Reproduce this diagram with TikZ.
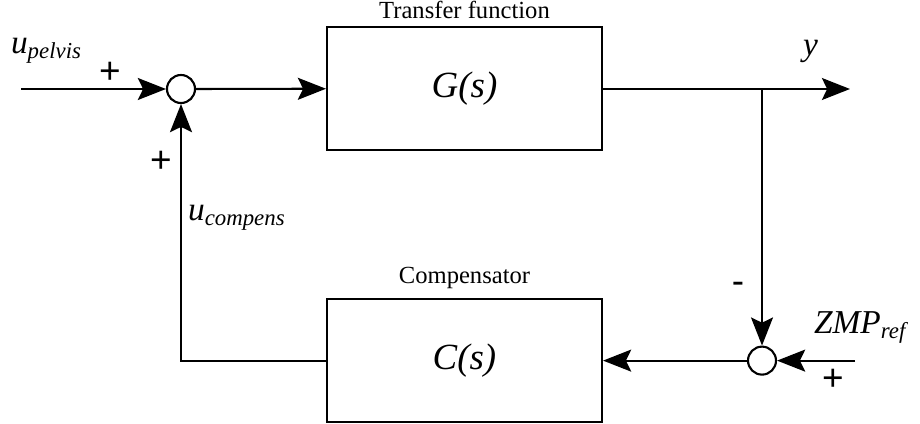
\documentclass[tikz,border=0pt]{standalone}
\usepackage{fontspec}
\setmainfont{Liberation Serif}
\newfontfamily\signfont{Liberation Sans}
\usepackage{tikz}
\usetikzlibrary{arrows.meta, positioning}

\newcommand{\sigsub}[2]{\textit{#1}\raisebox{-0.35ex}{\fontsize{13}{13}\selectfont\textit{#2}}}

\begin{document}
\begin{tikzpicture}[line width=1.2pt]
		\tikzstyle{block} = [rectangle, minimum width=5.5cm, minimum height=2.46cm, inner sep=0pt, draw=black, font=\fontsize{21}{24}\selectfont\itshape]
		
		\tikzstyle{sum} = [circle, minimum size=0.56cm, inner sep=0pt, draw=black, fill=white]
		
		\tikzstyle{signal} = [inner sep=0pt, anchor=base west, font=\fontsize{19}{22}\selectfont]
		
		\tikzstyle{sign} = [inner sep=0pt, font=\signfont\fontsize{21}{24}\selectfont]
		
		\tikzstyle{caption} = [inner sep=0pt, anchor=base, font=\fontsize{14}{16}\selectfont]
		
		\tikzstyle{arrow} = [-{Stealth[length=16pt, width=12.5pt, inset=3pt]}]
		
		\useasboundingbox (0,0) rectangle (18.4,-8.46);
		
		% Forward path
		\coordinate (in) at (0.42,-1.78);
		\node (sum1) [sum] at (3.62,-1.78) {};
		\node (G) [block] at (9.29,-1.77) {G(s)};
		\coordinate (branch) at (15.24,-1.78);
		\coordinate (out) at (17.0,-1.78);
		
		% Feedback path
		\node (C) [block, below=2.94cm of G] {C(s)};
		\node (sum2) [sum] at (branch |- C) {};
		\coordinate (zmp) at (17.1,-7.16 |- sum2);
		
		% Captions
		\node (tf) [caption] at (9.29,-0.38) {Transfer function};
		\node (comp) [caption] at (9.29,-5.66) {Compensator};
		
		% Signals
		\node (upelvis) [signal] at (0.2,-1.06) {\sigsub{u}{pelvis}};
		\node (ucompens) [signal] at (3.74,-4.4) {\sigsub{u}{compens}};
		\node (yout) [signal] at (16.04,-1.1) {\textit{y}};
		\node (zmpref) [signal] at (16.26,-6.66) {\sigsub{ZMP}{ref}};
		
		% Signs
		\node (p1) [sign] at (2.2,-1.46) {+};
		\node (p2) [sign] at (3.22,-3.24) {+};
		\node (m1) [sign] at (14.76,-5.76) {-};
		\node (p3) [sign] at (16.66,-7.6) {+};
		
		% Arrows
		\draw [arrow] (in) -- (sum1);
		\draw [arrow] (sum1) -- (G);
		\draw [arrow] (G.east |- out) -- (out);
		\draw [arrow] (branch) -- (sum2);
		\draw [arrow] (zmp) -- (sum2);
		\draw [arrow] (sum2) -- (C);
		\draw [arrow] (C.west) -| (sum1);
		
		\end{tikzpicture}
\end{document}
